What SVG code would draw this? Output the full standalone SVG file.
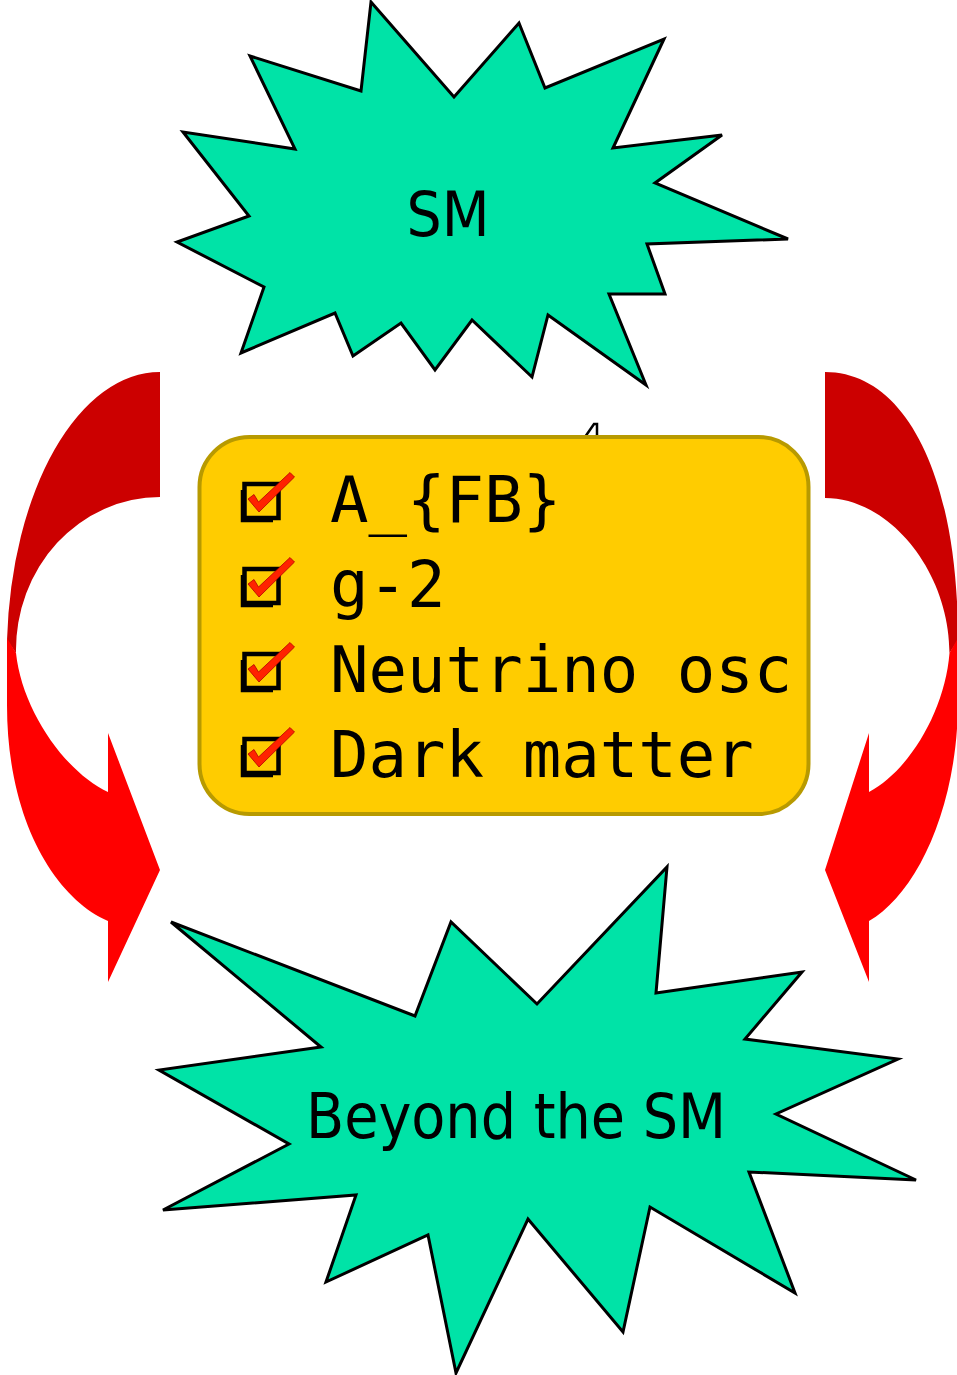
<svg xmlns="http://www.w3.org/2000/svg" xmlns:xlink="http://www.w3.org/1999/xlink" width="957" height="1375" viewBox="0 0 957 1375">
<style>
.star{fill:#00E3A7;stroke:#000;stroke-width:3;stroke-linejoin:miter}
.big{font-family:"DejaVu Sans Condensed","DejaVu Sans",sans-serif;font-size:62px;fill:#000}
.mono{font-family:"DejaVu Sans Mono","Liberation Mono",monospace;font-size:64px;fill:#000}
.dark{fill:#CC0000}
.bright{fill:#FF0000}
</style>
<defs>
<g id="chk">
<path d="M0,8 L0,39 L31,39" fill="none" stroke="#000" stroke-width="2.5"/>
<rect x="2.5" y="2" width="34" height="34" fill="none" stroke="#000" stroke-width="4.5"/>
<path d="M6,17 L12,12.5 L16.5,20 L48,-9.5 L52.5,-5 L17,30 Z" fill="#FF2200" stroke="#B00000" stroke-width="0.8"/>
</g>
</defs>
<g id="connectors">
<g id="arrow-left">
<path class="dark" d="M160,372 A153,283 0 0 0 7,640 L16,653 A144,153 0 0 1 160,497 Z"/>
<path class="bright" d="M7,638 L7,705 C7,820 55,898 108,921 L108,982 L160,870 L108,733 L108,792 C65,772 22,710 16,653 Z"/>
</g>
<g id="arrow-right">
<path class="dark" d="M825,372 C905,372 958,474 958,640 L949.5,653 C949.5,572 890,498 825,498 Z"/>
<path class="bright" d="M958,638 L958,700 C958,810 915,895 869,921 L869,982 L825,870 L869,733 L869,792 C910,770 945,710 949.5,653 Z"/>
</g>
</g>
<g id="node-sm">
<polygon class="star" points="371,2 454,97 519,23 545,88 664,39 613,148 722,135 655,183 788,239 647,244 665,294 609,294 646,385 548,315 532,377 472,320 435,370 401,323 353,356 335,313 241,353 264,287 177,242 249,216 183,132 295,149 250,56 361,91"/>
<text class="big" x="448" y="236" text-anchor="middle" textLength="83" lengthAdjust="spacingAndGlyphs">SM</text>
</g>
<g id="mark">
<path d="M585,437 L594,424 L597,424 L597,437" fill="none" stroke="#000" stroke-width="2.5"/>
</g>
<g id="node-list">
<rect x="199.5" y="437" width="609" height="377" rx="50" ry="50" fill="#FFCC00" stroke="#B89A00" stroke-width="4"/>
<use xlink:href="#chk" x="242" y="482"/>
<use xlink:href="#chk" x="242" y="567"/>
<use xlink:href="#chk" x="242" y="652"/>
<use xlink:href="#chk" x="242" y="737"/>
<text class="mono" x="330" y="522">A_{FB}</text>
<text class="mono" x="330" y="607">g-2</text>
<text class="mono" x="330" y="692">Neutrino osc</text>
<text class="mono" x="330" y="777">Dark matter</text>
</g>
<g id="node-bsm">
<polygon class="star" points="171,922 415,1016 451,922 537,1004 667,867 656,993 802,972 745,1039 898,1059 776,1114 916,1180 749,1172 795,1293 650,1207 623,1332 528,1219 456,1373 428,1235 326,1282 356,1195 163,1210 289,1144 159,1070 321,1047"/>
<text class="big" x="516" y="1138" text-anchor="middle" textLength="420" lengthAdjust="spacingAndGlyphs">Beyond the SM</text>
</g>
</svg>
